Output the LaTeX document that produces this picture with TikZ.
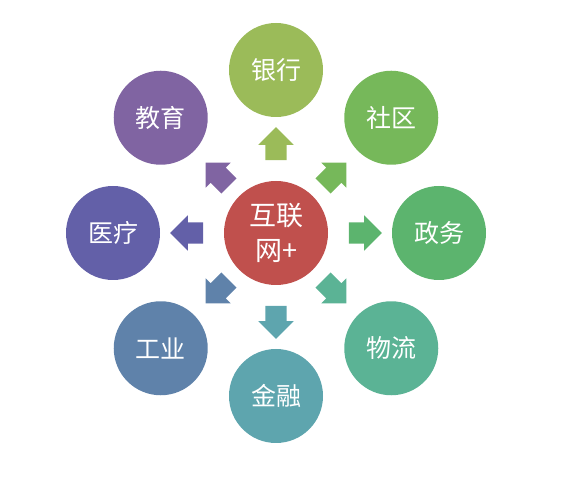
\documentclass[tikz,border=0pt]{standalone}
\usepackage{fontspec}
\setmainfont{Noto Sans CJK SC}
\usetikzlibrary{calc,shapes.arrows}
\definecolor{hubred}{RGB}{192,80,77}
\definecolor{bankgreen}{RGB}{155,187,89}
\definecolor{communitygreen}{RGB}{118,184,90}
\definecolor{govgreen}{RGB}{92,180,110}
\definecolor{logisticsteal}{RGB}{91,179,149}
\definecolor{financeteal}{RGB}{94,165,174}
\definecolor{industryblue}{RGB}{95,130,170}
\definecolor{medicalviolet}{RGB}{99,96,168}
\definecolor{educationpurple}{RGB}{128,100,162}

\begin{document}
\begin{tikzpicture}[
    hub/.style={circle,fill=hubred,minimum size=104pt,inner sep=0pt,align=center,
      text=white,font=\fontsize{27}{35}\selectfont},
    sat/.style={circle,minimum size=94pt,inner sep=0pt,text=white,
      font=\fontsize{25}{30}\selectfont},
    push/.style={single arrow,draw=none,minimum width=35pt,minimum height=33pt,
      inner xsep=0pt,inner ysep=10.5pt,single arrow head extend=7pt,
      single arrow tip angle=90}
  ]
    \useasboundingbox (0,0) rectangle (573pt,479pt);
    % hub and the eight fields round it
    \node[hub] (hub) at (276pt,246pt) {互联\\网+};
    \node[sat,fill=bankgreen] (bank) at ($(hub)+(90:163pt)$) {银行};
    \node[sat,fill=communitygreen] (community) at ($(hub)+(45:163pt)$) {社区};
    \node[sat,fill=govgreen] (gov) at ($(hub)+(0:163pt)$) {政务};
    \node[sat,fill=logisticsteal] (logistics) at ($(hub)+(-45:163pt)$) {物流};
    \node[sat,fill=financeteal] (finance) at ($(hub)+(-90:163pt)$) {金融};
    \node[sat,fill=industryblue] (industry) at ($(hub)+(-135:163pt)$) {工业};
    \node[sat,fill=medicalviolet] (medical) at ($(hub)+(180:163pt)$) {医疗};
    \node[sat,fill=educationpurple] (education) at ($(hub)+(135:163pt)$) {教育};
    % block arrows in the gaps
    \node[push,fill=bankgreen,rotate=90] (toBank) at ($(hub.90)!0.5!(bank.270)$) {};
    \node[push,fill=communitygreen,rotate=45] (toCommunity) at ($(hub.45)!0.4!(community.225)$) {};
    \node[push,fill=govgreen] (toGov) at ($(hub.0)!0.5!(gov.180)$) {};
    \node[push,fill=logisticsteal,rotate=-45] (toLogistics) at ($(hub.-45)!0.4!(logistics.135)$) {};
    \node[push,fill=financeteal,rotate=-90] (toFinance) at ($(hub.-90)!0.5!(finance.90)$) {};
    \node[push,fill=industryblue,rotate=-135] (toIndustry) at ($(hub.-135)!0.4!(industry.45)$) {};
    \node[push,fill=medicalviolet,rotate=180] (toMedical) at ($(hub.180)!0.5!(medical.0)$) {};
    \node[push,fill=educationpurple,rotate=135] (toEducation) at ($(hub.135)!0.4!(education.-45)$) {};
  \end{tikzpicture}
\end{document}
